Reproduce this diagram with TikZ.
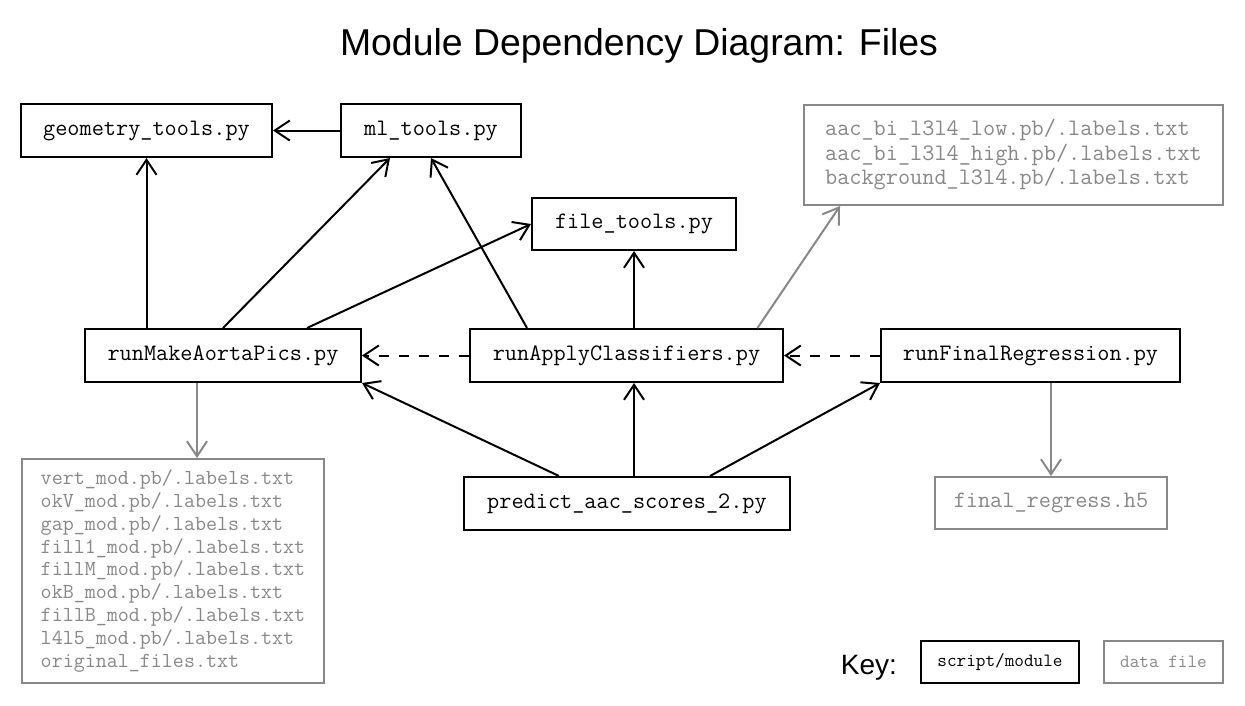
\documentclass[tikz,border=0pt]{standalone}
\usepackage{fontspec}
\setmainfont{Liberation Sans}
\usetikzlibrary{arrows.meta,positioning}
\definecolor{filegray}{HTML}{888888}

\begin{document}
\begin{tikzpicture}[x=1pt, y=-1pt, >={Straight Barb[length=15pt,width=20pt]},
  module/.style={draw, line width=2pt, inner sep=0pt, minimum height=53pt, font=\ttfamily\fontsize{23.6}{24.5}\selectfont},
  datafile/.style={draw=filegray, text=filegray, line width=2pt, inner sep=0pt, align=left, font=\ttfamily\fontsize{23.6}{24.5}\selectfont},
  dep/.style={->, line width=2pt},
  datadep/.style={->, line width=2pt, draw=filegray},
  calldep/.style={->, line width=2pt, dash pattern=on 10pt off 10pt}]
  \useasboundingbox (0,0) rectangle (1245,705);
  \node[anchor=base, font=\fontsize{37.4}{45}\selectfont] (title) at (639,55) {Module Dependency Diagram: Files};

  \node[module, minimum width=251pt] (geom) at (146.5,130.5) {geometry\_tools.py};
  \node[module, minimum width=180pt] (ml) at (431,130.5) {ml\_tools.py};
  \node[module, minimum width=204pt, minimum height=52pt] (file) at (634,224) {file\_tools.py};
  \node[datafile, minimum width=419pt, minimum height=100pt] (clsdata) at (1013.5,155)
    {aac\_bi\_l3l4\_low.pb/.labels.txt\\aac\_bi\_l3l4\_high.pb/.labels.txt\\background\_l3l4.pb/.labels.txt};

  \node[module, minimum width=276pt] (aorta) at (223,355.5) {runMakeAortaPics.py};
  \node[module, minimum width=313pt] (apply) at (626.5,355.5) {runApplyClassifiers.py};
  \node[module, minimum width=299pt] (regr) at (1030.5,355.5) {runFinalRegression.py};

  \node[module, minimum width=326pt] (predict) at (627,503.5) {predict\_aac\_scores\_2.py};
  \node[datafile, minimum width=232pt, minimum height=52pt] (regrdata) at (1051,503) {final\_regress.h5};
  \node[datafile, minimum width=302pt, minimum height=224pt, font=\ttfamily\fontsize{21.4}{22.9}\selectfont] (aortadata) at (173,571)
    {vert\_mod.pb/.labels.txt\\okV\_mod.pb/.labels.txt\\gap\_mod.pb/.labels.txt\\fill1\_mod.pb/.labels.txt\\fillM\_mod.pb/.labels.txt\\okB\_mod.pb/.labels.txt\\fillB\_mod.pb/.labels.txt\\l4l5\_mod.pb/.labels.txt\\original\_files.txt};

  \node[anchor=base, font=\fontsize{28}{34}\selectfont] (key) at (869,674) {Key:};
  \node[module, minimum width=158pt, minimum height=42pt, font=\ttfamily\fontsize{18.7}{20}\selectfont] (keymod) at (1000,662) {script/module};
  \node[datafile, minimum width=119pt, minimum height=42pt, font=\ttfamily\fontsize{18.7}{20}\selectfont] (keydata) at (1163.5,662) {data file};

  \draw[dep] (ml.west) -- (geom.east);
  \draw[dep] (geom.south |- aorta.north) -- (geom.south);
  \draw[dep] (aorta.north) -- ([xshift=50pt]ml.south west);
  \draw[dep] ([xshift=84pt]aorta.north) -- (file.west);
  \draw[dep] ([xshift=58pt]apply.north west) -- (ml.south);
  \draw[dep] (file.south |- apply.north) -- (file.south);
  \draw[datadep] ([xshift=131pt]apply.north) -- ([xshift=37pt]clsdata.south west);
  \draw[calldep] (apply.west) -- (aorta.east);
  \draw[calldep] (regr.west) -- (apply.east);
  \draw[datadep] (regrdata.north |- regr.south) -- (regrdata.north);
  \draw[datadep] ([xshift=-26pt]aorta.south) -- ([xshift=-26pt]aorta.south |- aortadata.north);
  \draw[dep] ([xshift=-68pt]predict.north) -- (aorta.south east);
  \draw[dep] (predict.north -| file.south) -- (apply.south -| file.south);
  \draw[dep] ([xshift=83pt]predict.north) -- (regr.south west);
\end{tikzpicture}
\end{document}
